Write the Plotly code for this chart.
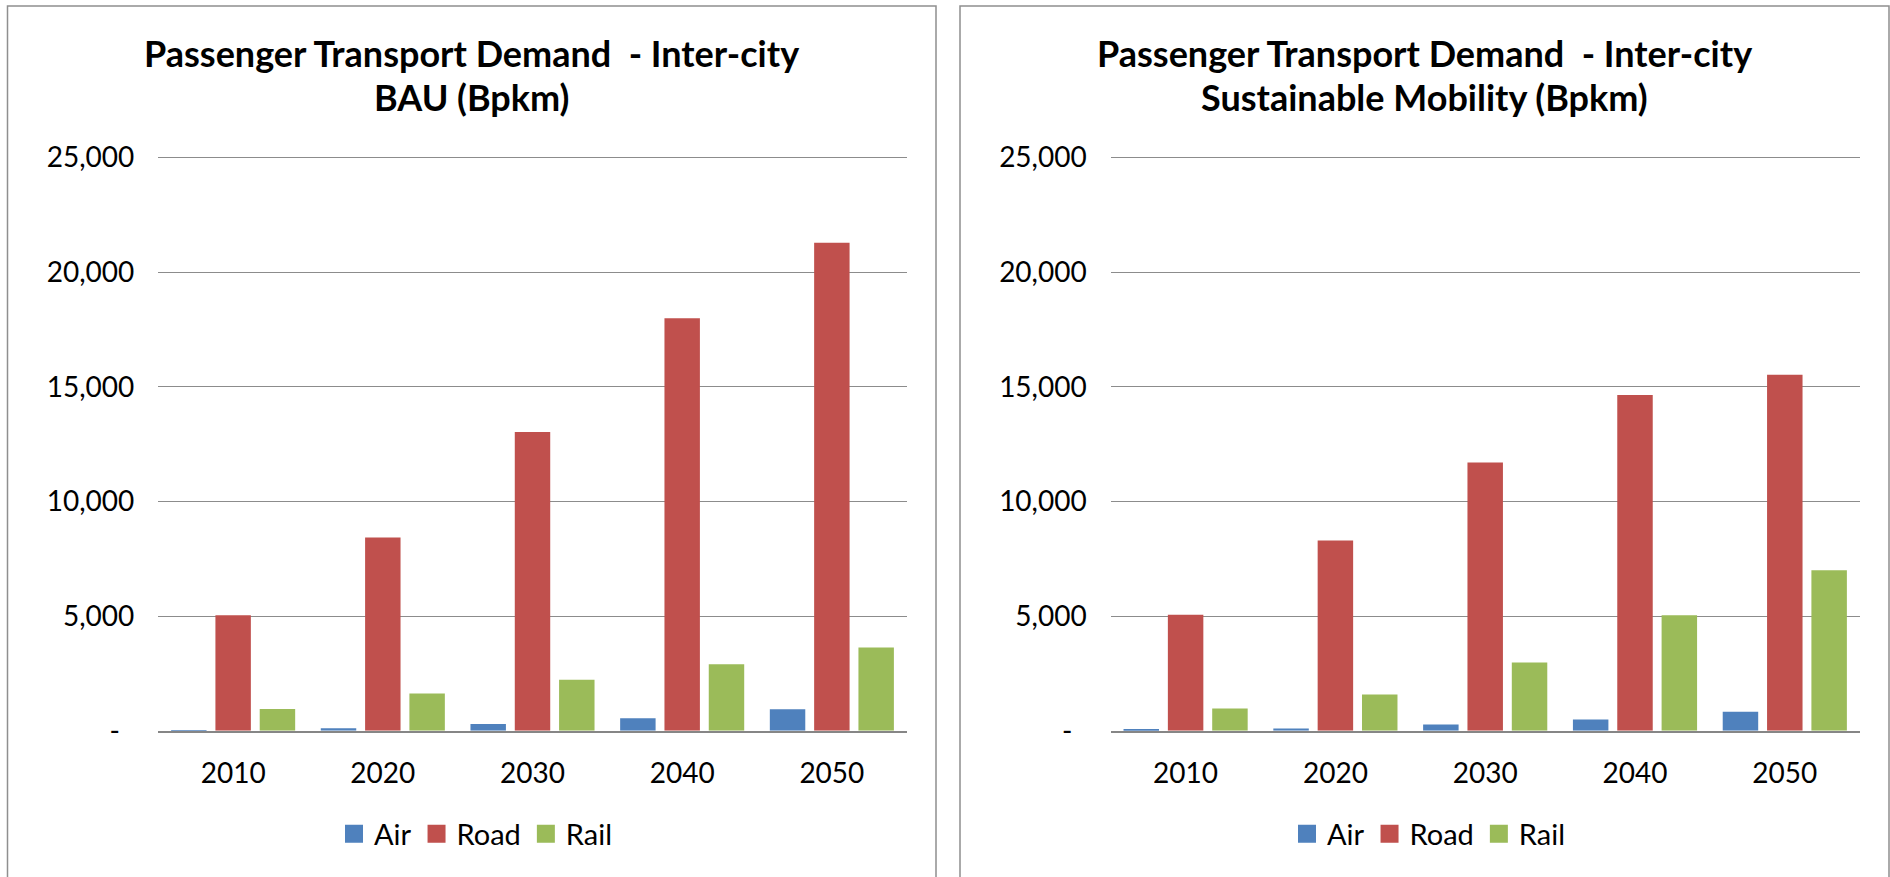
import plotly.graph_objects as go

# chart data (Bpkm)
years = ["2010", "2020", "2030", "2040", "2050"]
modes = ["Air", "Road", "Rail"]
colors = ["#4F81BD", "#C0504D", "#9BBB59"]

bau_air = [10, 110, 290, 540, 940]
bau_road = [5030, 8430, 13030, 17990, 21280]
bau_rail = [950, 1620, 2220, 2900, 3630]

sm_air = [60, 100, 270, 490, 830]
sm_road = [5060, 8290, 11700, 14640, 15520]
sm_rail = [970, 1580, 2970, 5030, 7000]

y_ticks = [0, 5000, 10000, 15000, 20000, 25000]
y_ticktext = ["-\u00a0\u00a0", "5,000", "10,000", "15,000", "20,000", "25,000"]

titles = [
    ("Passenger Transport Demand  - Inter-city", "BAU (Bpkm)"),
    ("Passenger Transport Demand  - Inter-city", "Sustainable Mobility (Bpkm)"),
]

W, H = 1890, 877
FONT = "Lato, 'Open Sans', sans-serif"

fig = go.Figure()

panels = [
    ("x", "y", "legend", [bau_air, bau_road, bau_rail]),
    ("x2", "y2", "legend2", [sm_air, sm_road, sm_rail]),
]
for xa, ya, lg, series in panels:
    for name, col, vals in zip(modes, colors, series):
        fig.add_trace(go.Bar(
            x=years, y=vals, name=name, xaxis=xa, yaxis=ya,
            marker=dict(color=col, line=dict(width=0)),
            showlegend=False, hoverinfo="x+y+name",
        ))
    # legend stand-ins with bigger square swatches
    for name, col in zip(modes, colors):
        fig.add_trace(go.Scatter(
            x=[None], y=[None], name=name, mode="markers", xaxis=xa, yaxis=ya,
            marker=dict(symbol="square", size=16, color=col, line=dict(width=2, color=col)),
            legend=lg, showlegend=True,
        ))

# panel geometry in pixels
panel_x = [(7.5, 936.0), (960.0, 1889.0)]
plot_x = [(158.3, 906.7), (1110.7, 1859.7)]
plot_top, plot_bot = 156.0, 730.7


def px(v):
    return v / W


def py(v):
    return 1 - v / H


yaxis_common = dict(
    range=[0, 25060], tickvals=y_ticks, ticktext=y_ticktext,
    showgrid=True, gridcolor="#8c8c8c", gridwidth=1,
    zeroline=False, showline=False, ticks="",
    ticklabelstandoff=23, automargin=False,
    tickfont=dict(family=FONT, size=28, color="#000000"),
    fixedrange=True,
)
xaxis_common = dict(
    showline=True, linecolor="#868686", linewidth=2,
    ticks="", ticklabelstandoff=17, automargin=False,
    tickfont=dict(family=FONT, size=28, color="#000000"),
    fixedrange=True,
)

legend_common = dict(
    orientation="h", yanchor="middle", xanchor="center",
    font=dict(family=FONT, size=29, color="#000000"), bgcolor="rgba(0,0,0,0)",
)

fig.update_layout(
    width=W, height=H,
    margin=dict(l=0, r=0, t=0, b=0, autoexpand=False),
    paper_bgcolor="white", plot_bgcolor="white",
    barmode="group", bargap=0.112, bargroupgap=0.2,
    font=dict(family=FONT, color="#000000"),
    xaxis=dict(domain=[px(plot_x[0][0]), px(plot_x[0][1])], anchor="y", **xaxis_common),
    yaxis=dict(domain=[py(plot_bot), py(plot_top)], anchor="x", **yaxis_common),
    xaxis2=dict(domain=[px(plot_x[1][0]), px(plot_x[1][1])], anchor="y2", **xaxis_common),
    yaxis2=dict(domain=[py(plot_bot), py(plot_top)], anchor="x2", **yaxis_common),
    legend=dict(x=px(476), y=py(834), **legend_common),
    legend2=dict(x=px(1429), y=py(834), **legend_common),
    showlegend=True,
)

# panel frames and titles
for (x0, x1), (l1, l2) in zip(panel_x, titles):
    fig.add_shape(type="rect", xref="paper", yref="paper",
                  x0=px(x0), x1=px(x1), y0=-0.05, y1=py(6.0),
                  line=dict(color="#8f8f8f", width=1.5), fillcolor="rgba(0,0,0,0)")
    cx = px((x0 + x1) / 2)
    fig.add_annotation(text="<b>%s</b>" % l1, xref="paper", yref="paper", x=cx, y=py(53),
                       xanchor="center", yanchor="middle", showarrow=False,
                       font=dict(family=FONT, size=36, color="#000000"))
    fig.add_annotation(text="<b>%s</b>" % l2, xref="paper", yref="paper", x=cx, y=py(97),
                       xanchor="center", yanchor="middle", showarrow=False,
                       font=dict(family=FONT, size=36, color="#000000"))

# drop the default page margin so the figure sits at the window origin
fig.write_html("out.html", config={"displayModeBar": False},
               post_script="document.body.style.margin='0px';")
